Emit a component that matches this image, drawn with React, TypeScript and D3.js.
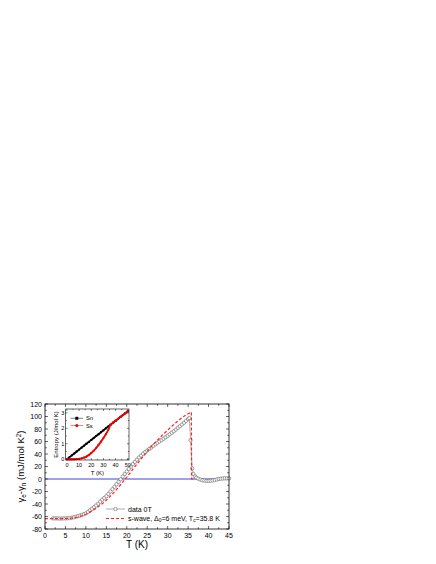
import { useEffect, useRef } from 'react';
import * as d3 from 'd3';

// main panel: electronic specific heat difference, data 0T (circles)
const dataT = [
  2, 2.5, 3, 3.5, 4, 4.5, 5, 5.5, 6, 6.5, 7, 7.5, 8, 8.5, 9, 9.5, 10, 10.5, 11, 11.5,
  12, 12.5, 13, 13.5, 14, 14.5, 15, 15.5, 16, 16.5, 17, 17.5, 18, 18.5, 19, 19.5,
  20, 20.5, 21, 21.5, 22, 22.5, 23, 23.5, 24, 24.5, 25, 25.5, 26, 26.5, 27, 27.5,
  28, 28.5, 29, 29.5, 30, 30.5, 31, 31.5, 32, 32.5, 33, 33.5, 34, 34.5, 35, 35.3,
  35.6, 36, 36.3, 36.7, 37, 37.5, 38, 38.5, 39, 39.5, 40, 40.5, 41, 41.5, 42, 42.5,
  43, 43.5, 44, 44.5, 45,
];
const dataGamma = [
  -63, -63, -63, -63.2, -63.2, -63, -63, -62.8, -62.5, -62, -61.3, -60.5, -59.5, -58.5, -57.5, -56.3, -55, -52.5, -50, -47.5,
  -45, -42.3, -39.5, -36.3, -33, -30.3, -27.5, -23.8, -20, -16.3, -12.5, -8.5, -4.5, -0.5, 4, 8,
  12, 16, 20, 23.8, 27.5, 31, 34.5, 37.5, 40.5, 43, 45.5, 48, 50.5, 53, 55.5, 57.8,
  60, 62.3, 64.5, 66.8, 69, 71.5, 74, 76.5, 79, 81.8, 84.5, 87.3, 90, 93, 96, 97.5,
  62, 17, 8, 4, 2, 0.5, -1, -2, -2.5, -3, -3, -2.7, -2.2, -1.5, -0.8, 0,
  0.5, 0.8, 1, 1, 1,
];

// s-wave fit (red dashed)
const fitT = [
  0, 1, 2, 3, 4, 5, 6, 7, 8, 9, 10, 11, 12, 13, 14, 15, 16, 17, 18, 19, 20,
  21, 22, 23, 24, 25, 26, 27, 28, 29, 30, 31, 32, 33, 34, 35, 35.8, 35.85, 36.5,
];
const fitGamma = [
  -63.5, -63.5, -63.5, -63.5, -63.5, -63.3, -63, -62.2, -60.8, -58.8, -56.3, -53, -49, -44.5, -39.5, -34, -27.5, -20.5, -13, -5, 3,
  11.5, 20, 28, 36, 44, 52, 59, 65.5, 72, 78, 84.5, 90, 95.5, 100.5, 104.5, 107, 0, 0,
];

// inset: entropy
const entT = [0, 2, 4, 6, 8, 10, 12, 14, 16, 18, 20, 22, 24, 26, 28, 30, 32, 34, 35.8, 38, 40, 42, 44, 46, 48, 50];
const entSn = [0, 0.12, 0.25, 0.37, 0.5, 0.62, 0.75, 0.87, 1.0, 1.12, 1.25, 1.37, 1.5, 1.62, 1.75, 1.87, 2.0, 2.12, 2.23, 2.37, 2.49, 2.61, 2.74, 2.86, 2.98, 3.1];
const entSs = [0, 0, 0, 0, 0.01, 0.02, 0.05, 0.1, 0.17, 0.27, 0.4, 0.55, 0.72, 0.93, 1.14, 1.37, 1.62, 1.9, 2.23, 2.37, 2.49, 2.61, 2.74, 2.86, 2.98, 3.1];

const xTicks = [0, 5, 10, 15, 20, 25, 30, 35, 40, 45];
const yTicks = [-80, -60, -40, -20, 0, 20, 40, 60, 80, 100, 120];
const insetXTicks = [0, 10, 20, 30, 40, 50];
const insetYTicks = [0, 1, 2, 3];

const FONT = '"Liberation Sans", Arial, sans-serif';

const App = () => {
  const ref = useRef<SVGSVGElement>(null);

  useEffect(() => {
    if (!ref.current) return;
    const svg = d3.select(ref.current);
    svg.selectAll('*').remove();
    svg.style('font-family', FONT);

    const x = d3.scaleLinear().domain([0, 45]).range([45, 229]);
    const y = d3.scaleLinear().domain([-80, 120]).range([529, 404]);
    const [x0, x1] = x.range();
    const [y0, y1] = y.range();

    const g = svg.append('g');

    // ticks (inward, all sides)
    const minorX = d3.range(0, 45.1, 2.5);
    const minorY = d3.range(-80, 120.1, 10);
    minorX.forEach((t) => {
      const major = t % 5 === 0;
      const len = major ? 3 : 1.8;
      g.append('line').attr('x1', x(t)).attr('x2', x(t)).attr('y1', y0).attr('y2', y0 - len).attr('stroke', '#000').attr('stroke-width', 0.6);
      g.append('line').attr('x1', x(t)).attr('x2', x(t)).attr('y1', y1).attr('y2', y1 + len).attr('stroke', '#000').attr('stroke-width', 0.6);
    });
    minorY.forEach((v) => {
      const major = v % 20 === 0;
      const len = major ? 3 : 1.8;
      g.append('line').attr('x1', x0).attr('x2', x0 + len).attr('y1', y(v)).attr('y2', y(v)).attr('stroke', '#000').attr('stroke-width', 0.6);
      g.append('line').attr('x1', x1).attr('x2', x1 - len).attr('y1', y(v)).attr('y2', y(v)).attr('stroke', '#000').attr('stroke-width', 0.6);
    });

    g.selectAll('.xl').data(xTicks).enter().append('text')
      .attr('x', (d) => x(d)).attr('y', 537.5)
      .attr('text-anchor', 'middle').style('font-size', '7px').text((d) => d);
    g.selectAll('.yl').data(yTicks).enter().append('text')
      .attr('x', 42).attr('y', (d) => y(d)).attr('dy', '0.36em')
      .attr('text-anchor', 'end').style('font-size', '7px').text((d) => d);

    // axis titles
    g.append('text').attr('x', (x0 + x1) / 2).attr('y', 548)
      .attr('text-anchor', 'middle').style('font-size', '10px').text('T (K)');

    const yt = g.append('text')
      .attr('transform', `translate(24,${(y0 + y1) / 2}) rotate(-90)`)
      .attr('text-anchor', 'middle').style('font-size', '9.5px');
    yt.append('tspan').text('γ');
    yt.append('tspan').attr('baseline-shift', '-25%').style('font-size', '6.5px').text('e');
    yt.append('tspan').text('-γ');
    yt.append('tspan').attr('baseline-shift', '-25%').style('font-size', '6.5px').text('n');
    yt.append('tspan').text(' (mJ/mol K');
    yt.append('tspan').attr('baseline-shift', '45%').style('font-size', '6.5px').text('2');
    yt.append('tspan').text(')');

    // zero line
    g.append('line').attr('x1', x0).attr('x2', x1).attr('y1', y(0)).attr('y2', y(0))
      .attr('stroke', '#2b2bd6').attr('stroke-width', 0.9);

    // data line + circles
    const pts = dataT.map((t, i) => [t, dataGamma[i]] as [number, number]);
    const line = d3.line<[number, number]>().x((d) => x(d[0])).y((d) => y(d[1]));
    g.append('path').datum(pts).attr('d', line).attr('fill', 'none').attr('stroke', '#777').attr('stroke-width', 0.6);
    g.selectAll('.pt').data(pts).enter().append('circle')
      .attr('cx', (d) => x(d[0])).attr('cy', (d) => y(d[1])).attr('r', 1.7)
      .attr('fill', 'white').attr('stroke', '#555').attr('stroke-width', 0.55);

    // s-wave fit
    const fit = fitT.map((t, i) => [t, fitGamma[i]] as [number, number]);
    g.append('path').datum(fit).attr('d', line).attr('fill', 'none')
      .attr('stroke', '#ff2020').attr('stroke-width', 1.2).attr('stroke-dasharray', '3,2');

    // frame
    g.append('rect').attr('x', x0).attr('y', y1).attr('width', x1 - x0).attr('height', y0 - y1)
      .attr('fill', 'none').attr('stroke', '#000').attr('stroke-width', 0.8);

    // legend
    const lg = g.append('g');
    lg.append('line').attr('x1', 106).attr('x2', 125).attr('y1', 509).attr('y2', 509).attr('stroke', '#777').attr('stroke-width', 0.6);
    lg.append('circle').attr('cx', 115.5).attr('cy', 509).attr('r', 1.7).attr('fill', 'white').attr('stroke', '#555').attr('stroke-width', 0.55);
    lg.append('text').attr('x', 128).attr('y', 511.5).style('font-size', '7px').text('data 0T');
    lg.append('line').attr('x1', 106).attr('x2', 125).attr('y1', 518.5).attr('y2', 518.5)
      .attr('stroke', '#ff2020').attr('stroke-width', 1.2).attr('stroke-dasharray', '3,2');
    const lt = lg.append('text').attr('x', 128).attr('y', 521).style('font-size', '7px');
    lt.append('tspan').text('s-wave, Δ');
    lt.append('tspan').attr('baseline-shift', '-25%').style('font-size', '4.8px').text('0');
    lt.append('tspan').text('=6 meV, T');
    lt.append('tspan').attr('baseline-shift', '-25%').style('font-size', '4.8px').text('c');
    lt.append('tspan').text('=35.8 K');

    // ---- inset ----
    const ix = d3.scaleLinear().domain([-1, 51]).range([65.7, 129]);
    const iy = d3.scaleLinear().domain([-0.05, 3.25]).range([460, 409]);
    const [ix0, ix1] = ix.range();
    const [iy0, iy1] = iy.range();
    const ins = svg.append('g');
    ins.append('rect').attr('x', ix0).attr('y', iy1).attr('width', ix1 - ix0).attr('height', iy0 - iy1).attr('fill', 'white');

    d3.range(0, 50.1, 5).forEach((t) => {
      const len = t % 10 === 0 ? 2 : 1.2;
      ins.append('line').attr('x1', ix(t)).attr('x2', ix(t)).attr('y1', iy0).attr('y2', iy0 - len).attr('stroke', '#000').attr('stroke-width', 0.5);
      ins.append('line').attr('x1', ix(t)).attr('x2', ix(t)).attr('y1', iy1).attr('y2', iy1 + len).attr('stroke', '#000').attr('stroke-width', 0.5);
    });
    d3.range(0, 3.01, 0.5).forEach((v) => {
      const len = v % 1 === 0 ? 2 : 1.2;
      ins.append('line').attr('x1', ix0).attr('x2', ix0 + len).attr('y1', iy(v)).attr('y2', iy(v)).attr('stroke', '#000').attr('stroke-width', 0.5);
      ins.append('line').attr('x1', ix1).attr('x2', ix1 - len).attr('y1', iy(v)).attr('y2', iy(v)).attr('stroke', '#000').attr('stroke-width', 0.5);
    });
    ins.selectAll('.ixl').data(insetXTicks).enter().append('text')
      .attr('x', (d) => ix(d)).attr('y', 466.5).attr('text-anchor', 'middle').style('font-size', '5.5px').text((d) => d);
    ins.selectAll('.iyl').data(insetYTicks).enter().append('text')
      .attr('x', 64.3).attr('y', (d) => iy(d)).attr('dy', '0.36em').attr('text-anchor', 'end').style('font-size', '5.5px').text((d) => d);
    ins.append('text').attr('x', (ix0 + ix1) / 2).attr('y', 475).attr('text-anchor', 'middle').style('font-size', '6px').text('T (K)');
    ins.append('text').attr('transform', `translate(58,${(iy0 + iy1) / 2}) rotate(-90)`)
      .attr('text-anchor', 'middle').style('font-size', '6px').text('Entropy (J/mol K)');

    const iline = d3.line<[number, number]>().x((d) => ix(d[0])).y((d) => iy(d[1]));
    const sn = entT.map((t, i) => [t, entSn[i]] as [number, number]);
    const ss = entT.map((t, i) => [t, entSs[i]] as [number, number]);
    ins.append('path').datum(sn).attr('d', iline).attr('fill', 'none').attr('stroke', '#000').attr('stroke-width', 1.8);
    ins.selectAll('.sn').data(sn).enter().append('rect')
      .attr('x', (d) => ix(d[0]) - 1).attr('y', (d) => iy(d[1]) - 1).attr('width', 2).attr('height', 2).attr('fill', '#000');
    ins.append('path').datum(ss).attr('d', iline).attr('fill', 'none').attr('stroke', '#ee0000').attr('stroke-width', 1.8);
    ins.selectAll('.ss').data(ss).enter().append('circle')
      .attr('cx', (d) => ix(d[0])).attr('cy', (d) => iy(d[1])).attr('r', 1.1).attr('fill', '#ee0000');

    ins.append('rect').attr('x', ix0).attr('y', iy1).attr('width', ix1 - ix0).attr('height', iy0 - iy1)
      .attr('fill', 'none').attr('stroke', '#000').attr('stroke-width', 0.6);

    // inset legend
    ins.append('line').attr('x1', 70.5).attr('x2', 83).attr('y1', 418.3).attr('y2', 418.3).attr('stroke', '#000').attr('stroke-width', 0.5);
    ins.append('rect').attr('x', 75.3).attr('y', 416.8).attr('width', 3).attr('height', 3).attr('fill', '#000');
    ins.append('text').attr('x', 86).attr('y', 420.3).style('font-size', '5.8px').text('Sn');
    ins.append('line').attr('x1', 70.5).attr('x2', 83).attr('y1', 425.5).attr('y2', 425.5).attr('stroke', '#ee0000').attr('stroke-width', 0.5);
    ins.append('circle').attr('cx', 76.8).attr('cy', 425.5).attr('r', 1.6).attr('fill', '#ee0000');
    ins.append('text').attr('x', 86).attr('y', 427.5).style('font-size', '5.8px').text('Ss');
  }, []);

  return (
    <svg
      ref={ref}
      width={436}
      height={564}
      style={{ position: 'absolute', left: 0, top: 0, background: 'white' }}
    />
  );
};

export default App;
